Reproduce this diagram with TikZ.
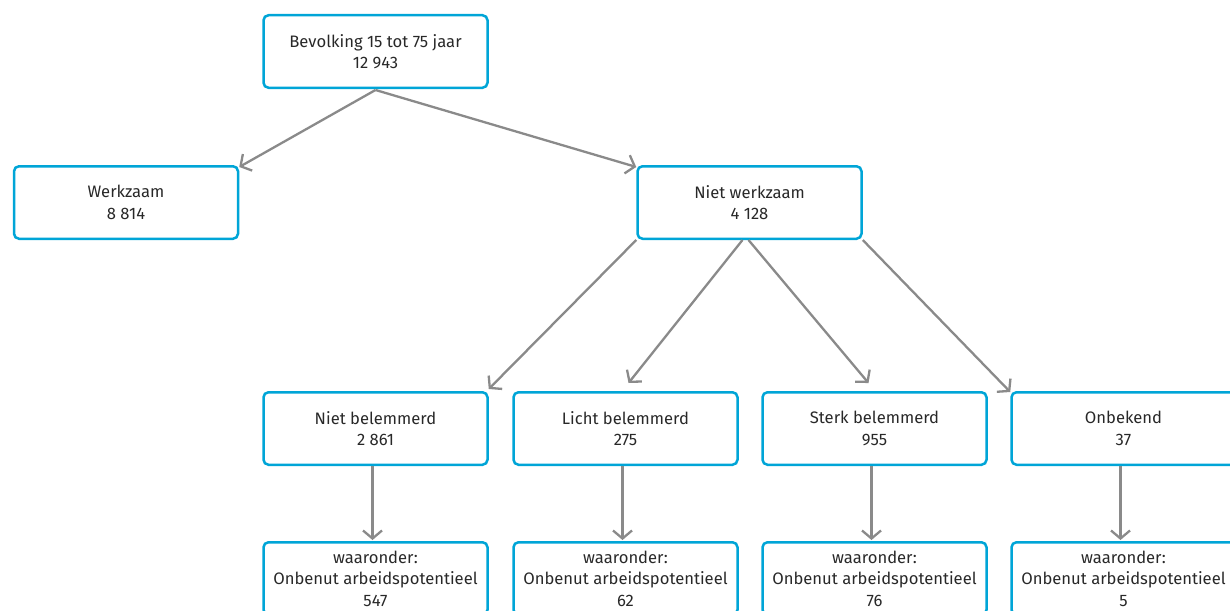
\documentclass[tikz,border=0pt]{standalone}
\usepackage{fontspec}
\setmainfont{Fira Sans}
\usetikzlibrary{arrows.meta}
\definecolor{cbsblauw}{RGB}{0,165,215}
\definecolor{pijlgrijs}{RGB}{138,138,138}
\definecolor{tekst}{RGB}{40,40,40}

\begin{document}
\begin{tikzpicture}[x=1pt,y=-1pt,
    box/.style={draw=cbsblauw,line width=2.5pt,rounded corners=5pt,
      minimum width=224pt,minimum height=72.5pt,inner sep=0pt,
      align=center,text=tekst,font=\fontsize{16.6}{21.5}\selectfont},
    pijl/.style={draw=pijlgrijs,line width=2.3pt,
      -{Straight Barb[length=8pt,width=19pt]}}]
    \useasboundingbox (0,0) rectangle (1230,610);
    \node[box] (bevolking) at (375.5,51.5) {Bevolking 15 tot 75 jaar\\12 943};
    \node[box] (werkzaam) at (126,202.5) {Werkzaam\\8 814};
    \node[box] (nietwerkzaam) at (749.5,202.5) {Niet werkzaam\\4 128};
    \node[box] (nietbel) at (375.5,428.5) {Niet belemmerd\\2 861};
    \node[box] (lichtbel) at (625.5,428.5) {Licht belemmerd\\275};
    \node[box] (sterkbel) at (874.5,428.5) {Sterk belemmerd\\955};
    \node[box] (onbekend) at (1123.5,428.5) {Onbekend\\37};
    \foreach \naam/\x/\n in {nietbel/375.5/547,lichtbel/625.5/62,sterkbel/874.5/76,onbekend/1123.5/5}{
      \node[box] (onbenut-\naam) at (\x,578.5) {waaronder:\\Onbenut arbeidspotentieel\\\n};
      \draw[pijl] ([xshift=-3]\naam.south) -- ([xshift=-3,yshift=1]onbenut-\naam.north);
    }
    \draw[pijl] ([yshift=-1]bevolking.south) -- ([yshift=-2]werkzaam.north east);
    \draw[pijl] ([yshift=-1]bevolking.south) -- ([yshift=-2]nietwerkzaam.north west);
    \draw[pijl] (nietwerkzaam.south west) -- ([yshift=2]nietbel.north east);
    \draw[pijl] ([xshift=-7]nietwerkzaam.south) -- ([xshift=3,yshift=8]lichtbel.north);
    \draw[pijl] ([xshift=-1]nietwerkzaam.south) -- ([xshift=-6,yshift=8]sterkbel.north);
    \draw[pijl] (nietwerkzaam.south east) -- ([yshift=-1]onbekend.north west);
  \end{tikzpicture}
\end{document}
